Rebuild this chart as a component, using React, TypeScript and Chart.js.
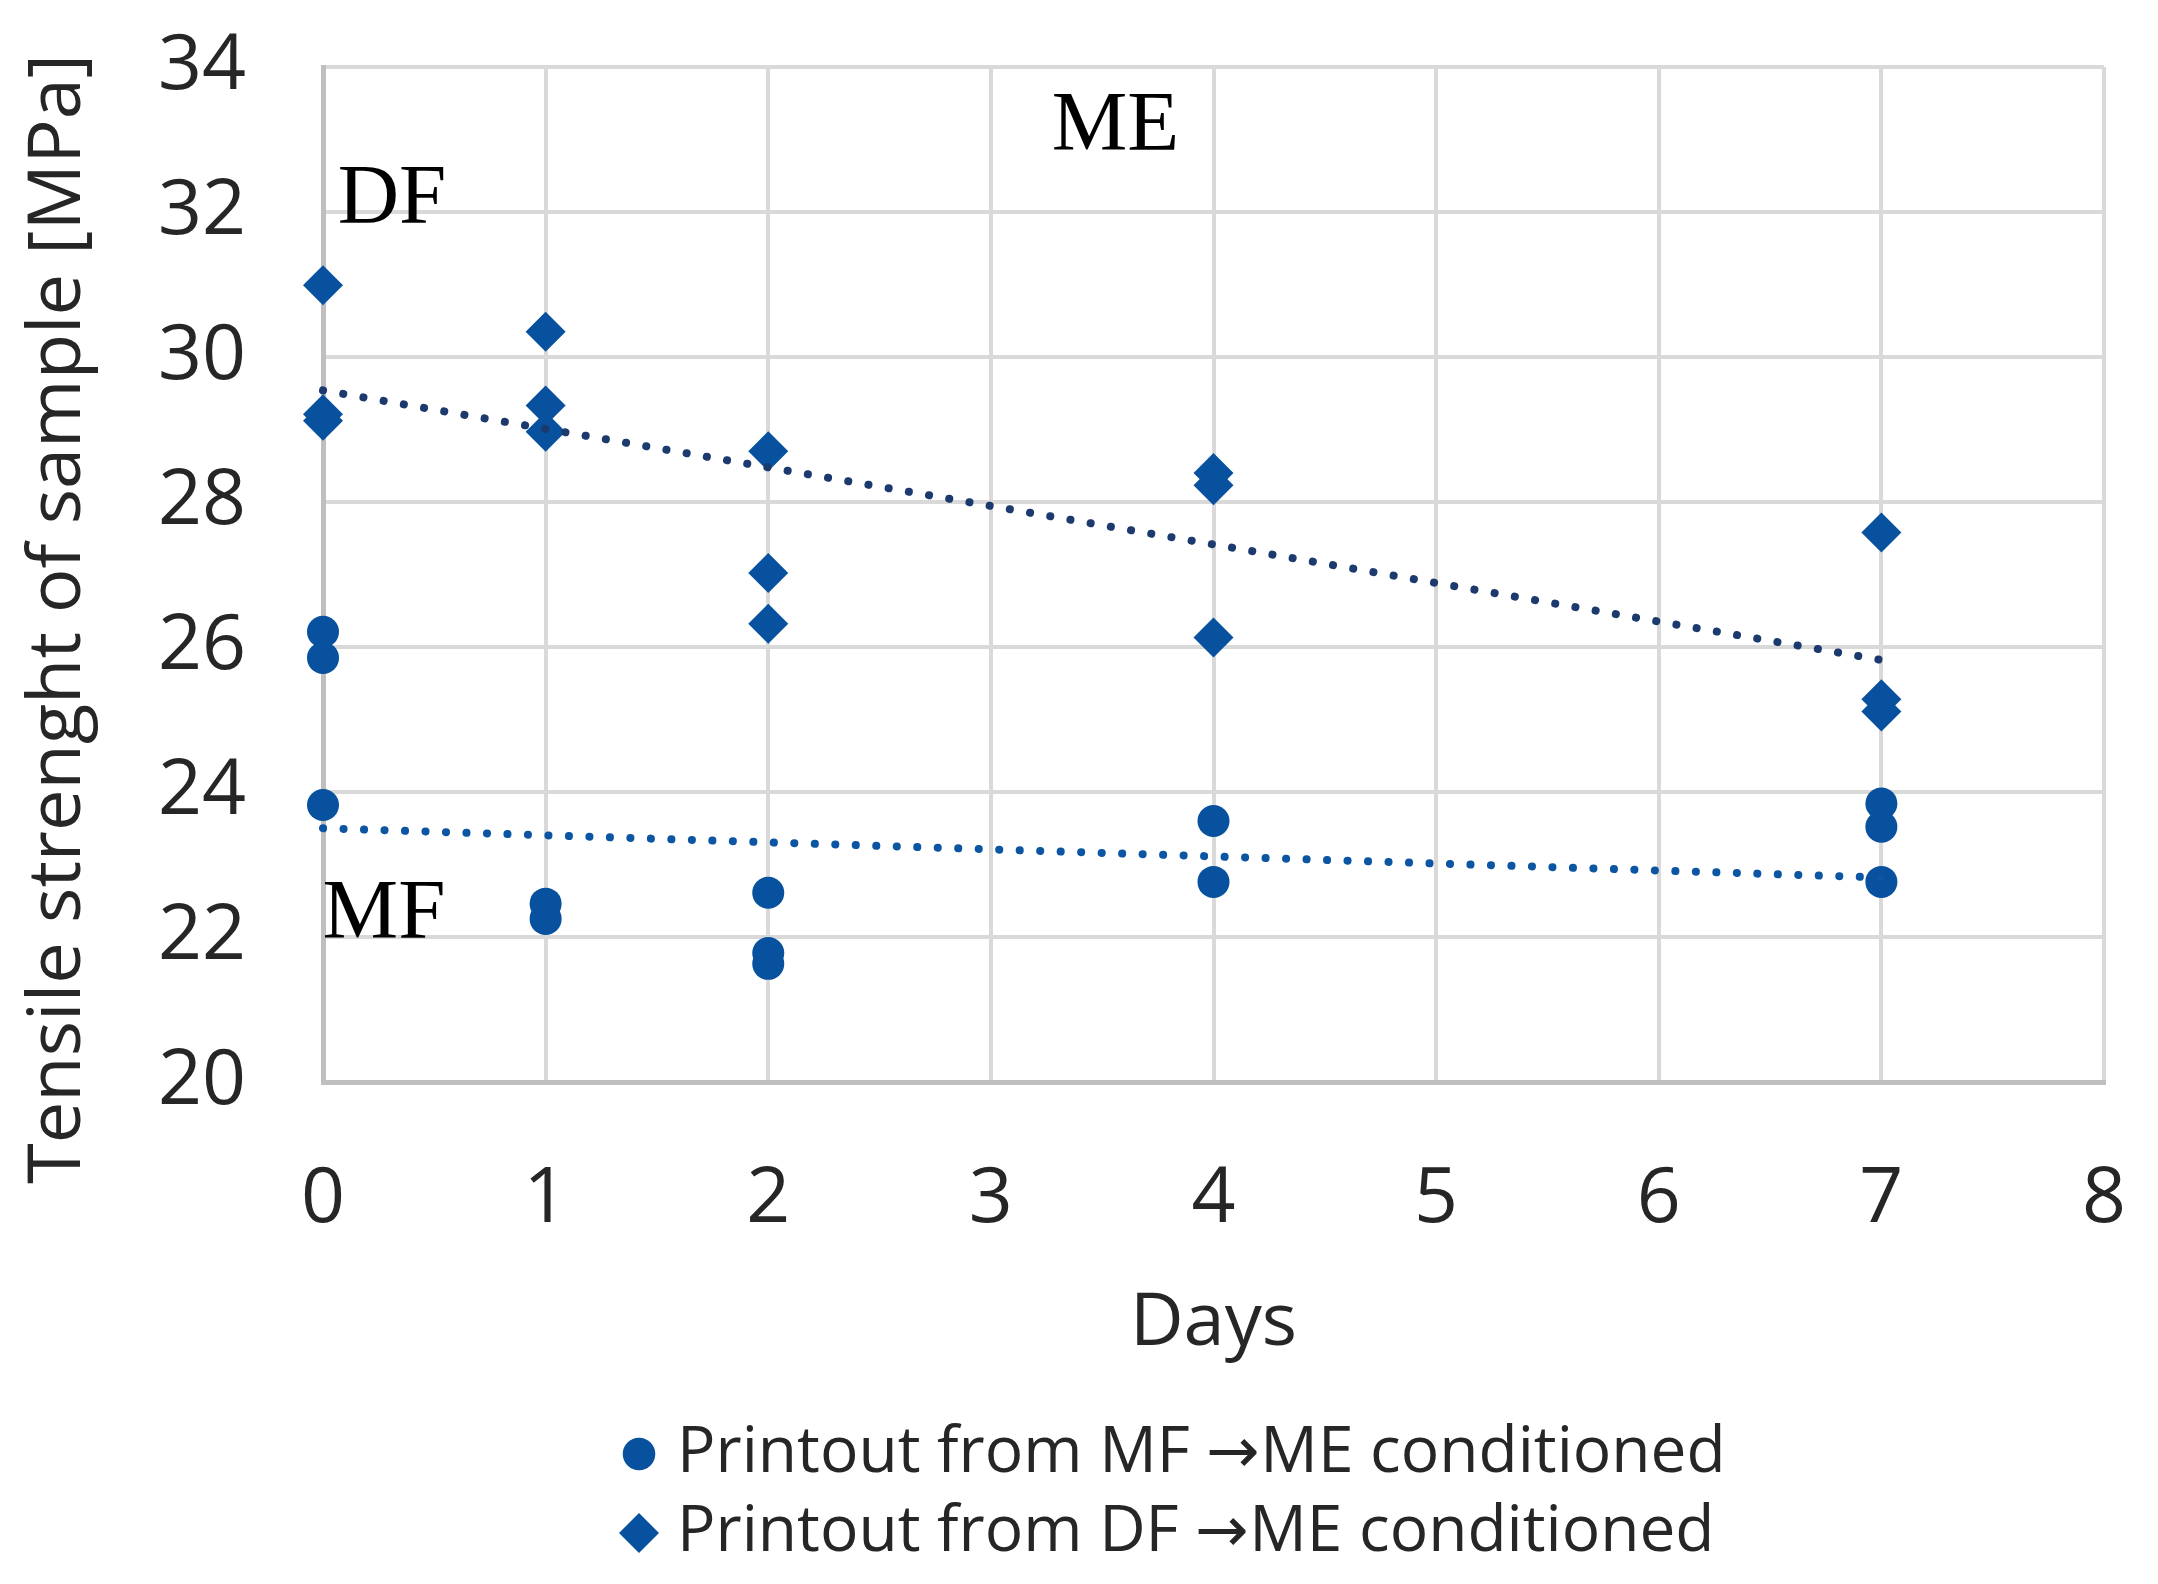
import React, { useEffect, useRef } from 'react';
import { Chart, registerables } from 'chart.js';

Chart.register(...registerables);

// ---- data ----
const seriesLabels = ['Printout from MF \u2192ME conditioned', 'Printout from DF \u2192ME conditioned'];

const mfDays = [0, 0, 0, 1, 1, 2, 2, 2, 4, 4, 7, 7, 7];
const mfValues = [26.21, 25.85, 23.82, 22.46, 22.25, 22.61, 21.78, 21.63, 23.6, 22.76, 23.84, 23.52, 22.76];

const dfDays = [0, 0, 0, 1, 1, 1, 2, 2, 2, 4, 4, 4, 7, 7, 7];
const dfValues = [30.99, 29.21, 29.12, 30.35, 29.33, 28.97, 28.7, 27.02, 26.32, 28.4, 28.23, 26.13, 27.58, 25.28, 25.11];

const mfTrendDays = [0, 7];
const mfTrendValues = [23.5, 22.82];
const dfTrendDays = [0, 7];
const dfTrendValues = [29.54, 25.82];

const xTitle = 'Days';
const yTitle = 'Tensile strenght of sample [MPa]';
const xMin = 0, xMax = 8, xStep = 1;
const yMin = 20, yMax = 34, yStep = 2;

const annotationLabels = ['DF', 'ME', 'MF'];
const annotationX = [0.31, 3.56, 0.274];
const annotationY = [31.85, 32.85, 21.99];

// ---- styles ----
const MARKER = '#07519E';
const TREND_DF = '#1C3A6E';
const TREND_MF = '#0B55A2';
const GRID = '#d9d9d9';
const AXIS = '#bfbfbf';
const TEXT = '#262626';
const FONT = "'Open Sans'";
const LEGEND_FONT = "'ArrowGlyph', 'Open Sans'";

const toPoints = (xs: number[], ys: number[]) => xs.map((x, i) => ({ x, y: ys[i] }));

function makeDiamond(r: number, color: string) {
  const c = document.createElement('canvas');
  c.width = 2 * r;
  c.height = 2 * r;
  const g = c.getContext('2d');
  if (g) {
    g.fillStyle = color;
    g.beginPath();
    g.moveTo(r, 0);
    g.lineTo(2 * r, r);
    g.lineTo(r, 2 * r);
    g.lineTo(0, r);
    g.closePath();
    g.fill();
  }
  return c;
}

const overlayPlugin = {
  id: 'overlayText',
  afterLayout(chart: any) {
    const lg = chart.legend;
    if (lg) {
      const w = lg.width;
      const h = lg.height;
      lg.left = 618;
      lg.right = 618 + w;
      lg.top = 1407;
      lg.bottom = 1407 + h;
    }
  },
  afterDraw(chart: any) {
    const ctx = chart.ctx;
    const xs = chart.scales.x;
    const ys = chart.scales.y;
    ctx.save();
    ctx.save();
    ctx.translate(80, 619);
    ctx.rotate(-Math.PI / 2);
    ctx.font = `74px ${FONT}`;
    ctx.fillStyle = TEXT;
    ctx.textAlign = 'center';
    ctx.textBaseline = 'alphabetic';
    ctx.fillText(yTitle, 0, 0);
    ctx.restore();
    ctx.font = `85px 'Liberation Serif'`;
    ctx.fillStyle = '#000';
    ctx.textAlign = 'center';
    ctx.textBaseline = 'alphabetic';
    annotationLabels.forEach((t, i) => {
      ctx.fillText(t, xs.getPixelForValue(annotationX[i]), ys.getPixelForValue(annotationY[i]));
    });
    ctx.restore();
  },
};

export default function App() {
  const ref = useRef<HTMLCanvasElement | null>(null);

  useEffect(() => {
    document.body.style.margin = '0';
    const style = document.createElement('style');
    style.textContent =
      "@font-face { font-family: 'ArrowGlyph'; src: local('DejaVu Sans'), local('DejaVuSans'); unicode-range: U+2192; }";
    document.head.appendChild(style);

    let chart: any = null;
    let cancelled = false;

    const build = () => {
      const canvas = ref.current;
      if (!canvas || cancelled) return;
      const diamondIcon = makeDiamond(20, MARKER);
      const trendCommon = {
        showLine: true,
        pointRadius: 0,
        borderWidth: 8,
        borderDash: [0.1, 20.4],
        borderCapStyle: 'round',
        fill: false,
        clip: false,
        order: 0,
      };
      chart = new Chart(canvas, {
        type: 'scatter',
        data: {
          datasets: [
            {
              label: seriesLabels[0],
              data: toPoints(mfDays, mfValues),
              pointStyle: 'circle',
              pointRadius: 16,
              backgroundColor: MARKER,
              borderColor: MARKER,
              borderWidth: 0,
              clip: false,
              order: 1,
            } as any,
            {
              label: seriesLabels[1],
              data: toPoints(dfDays, dfValues),
              pointStyle: 'rectRot',
              pointRadius: 20,
              backgroundColor: MARKER,
              borderColor: MARKER,
              borderWidth: 0,
              clip: false,
              order: 1,
            } as any,
            {
              label: 'trend MF',
              data: toPoints(mfTrendDays, mfTrendValues),
              borderColor: TREND_MF,
              backgroundColor: TREND_MF,
              ...trendCommon,
            } as any,
            {
              label: 'trend DF',
              data: toPoints(dfTrendDays, dfTrendValues),
              borderColor: TREND_DF,
              backgroundColor: TREND_DF,
              ...trendCommon,
            } as any,
          ],
        },
        options: {
          animation: false,
          responsive: false,
          devicePixelRatio: 1,
          events: [],
          layout: { padding: { top: 67, right: 54, bottom: 0, left: 0 } },
          plugins: {
            tooltip: { enabled: false },
            legend: {
              display: true,
              position: 'bottom',
              align: 'start',
              labels: {
                usePointStyle: true,
                boxWidth: 12,
                boxHeight: 23,
                padding: 15,
                color: TEXT,
                font: { family: LEGEND_FONT, size: 64 },
                filter: (item: any) => item.datasetIndex < 2,
                generateLabels: (c: any) => {
                  const items = Chart.defaults.plugins.legend.labels.generateLabels(c);
                  return items.map((it: any) =>
                    it.datasetIndex === 1 ? { ...it, pointStyle: diamondIcon } : it
                  );
                },
              },
            },
          },
          scales: {
            x: {
              type: 'linear',
              min: xMin,
              max: xMax,
              ticks: { stepSize: xStep, padding: 72, color: TEXT, font: { family: FONT, size: 77 } },
              grid: { color: GRID, lineWidth: 4, drawTicks: false },
              border: { display: true, color: AXIS, width: 5 },
              title: {
                display: true,
                text: xTitle,
                color: TEXT,
                font: { family: FONT, size: 74 },
                padding: { top: 0, bottom: 47.6 },
              },
              afterFit: (s: any) => {
                s.height = 334;
                s.paddingLeft = 0;
                s.paddingRight = 0;
              },
            },
            y: {
              type: 'linear',
              min: yMin,
              max: yMax,
              ticks: { stepSize: yStep, padding: 77, color: TEXT, font: { family: FONT, size: 77 } },
              grid: { color: GRID, lineWidth: 4, drawTicks: false },
              border: { display: true, color: AXIS, width: 5 },
              title: { display: false },
              afterFit: (s: any) => {
                s.width = 323;
                s.paddingTop = 0;
                s.paddingBottom = 0;
              },
            },
          },
        } as any,
        plugins: [overlayPlugin],
      });
    };

    const fontsApi: any = (document as any).fonts;
    if (fontsApi && fontsApi.load) {
      fontsApi
        .load("64px 'ArrowGlyph'", '\u2192')
        .catch(() => null)
        .then(() => build());
    } else {
      build();
    }

    return () => {
      cancelled = true;
      if (chart) chart.destroy();
      style.remove();
    };
  }, []);

  return (
    <div style={{ width: 2158, height: 1584, position: 'relative', background: '#fff' }}>
      <canvas ref={ref} width={2158} height={1584} style={{ width: 2158, height: 1584, display: 'block' }} />
    </div>
  );
}
